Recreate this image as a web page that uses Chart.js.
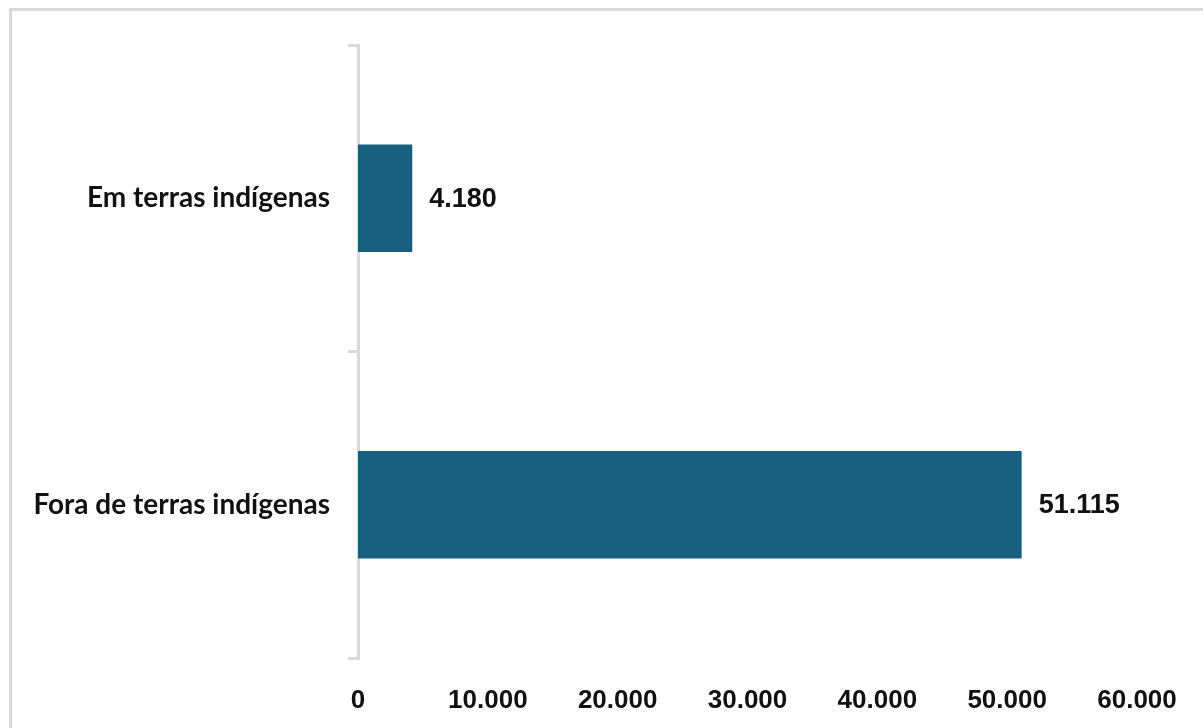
<!DOCTYPE html>
<html>
<head>
<meta charset="utf-8">
<script src="https://cdn.jsdelivr.net/npm/chart.js@4"></script>
<style>
    html, body { margin: 0; padding: 0; background: #fff; }
    #wrap { position: relative; width: 1203px; height: 728px; overflow: hidden; }
    #frame {
        position: absolute; left: 9px; top: 8px; width: 1400px; height: 900px;
        border-top: 3px solid #d9d9d9; border-left: 3px solid #d9d9d9;
    }
    canvas { position: absolute; left: 0; top: 0; }
</style>
</head>
<body>
<div id="wrap">
    <div id="frame"></div>
    <canvas id="chart" width="1203" height="728"></canvas>
</div>
<script>
// Focos de calor - dentro e fora de terras indígenas

const categories = ['Em terras indígenas', 'Fora de terras indígenas'];
const values = [4180, 51115];
const xTicks = [0, 10000, 20000, 30000, 40000, 50000, 60000];

const BAR_COLOR = '#185f80';
const AXIS_COLOR = '#d9d9d9';
const LABEL_FONT = "Lato, 'Noto Sans', sans-serif";
const NUM_FONT = "'Liberation Sans', Arial, sans-serif";

function fmt(n) {
    return String(Math.round(n)).replace(/\B(?=(\d{3})+(?!\d))/g, '.');
}

// value labels at the end of each bar
const valueLabels = {
    id: 'valueLabels',
    afterDatasetsDraw(chart) {
        const { ctx } = chart;
        const meta = chart.getDatasetMeta(0);
        ctx.save();
        ctx.font = `bold 27px ${NUM_FONT}`;
        ctx.fillStyle = '#111';
        ctx.textAlign = 'left';
        ctx.textBaseline = 'middle';
        meta.data.forEach((bar, i) => {
            ctx.fillText(fmt(values[i]), bar.x + 17, bar.y + 1);
        });
        ctx.restore();
    },
};

new Chart(document.getElementById('chart'), {
    type: 'bar',
    data: {
        labels: categories,
        datasets: [{
            data: values,
            backgroundColor: BAR_COLOR,
            borderWidth: 0,
            barPercentage: 0.35,
            categoryPercentage: 1,
        }],
    },
    options: {
        indexAxis: 'y',
        responsive: false,
        animation: false,
        layout: { padding: { top: 45, right: 66, bottom: 0, left: 0 } },
        plugins: {
            legend: { display: false },
            tooltip: { enabled: false },
        },
        scales: {
            x: {
                min: 0,
                max: 60000,
                afterBuildTicks: (s) => { s.ticks = xTicks.map(v => ({ value: v })); },
                afterFit: (s) => { s.height = 70; },
                grid: { display: false },
                border: { display: false },
                ticks: {
                    padding: 19,
                    color: '#111',
                    font: { family: NUM_FONT, size: 26, weight: 'bold' },
                    callback: (v) => fmt(v),
                },
            },
            y: {
                afterFit: (s) => { s.width = 358; },
                border: { display: true, color: AXIS_COLOR, width: 3 },
                grid: {
                    display: true,
                    offset: true,
                    drawOnChartArea: false,
                    drawTicks: true,
                    tickLength: 10,
                    color: AXIS_COLOR,
                    lineWidth: 3,
                },
                ticks: {
                    padding: 18,
                    color: '#111',
                    font: { family: LABEL_FONT, size: 28, weight: 'bold' },
                },
            },
        },
    },
    plugins: [valueLabels],
});
</script>
</body>
</html>
